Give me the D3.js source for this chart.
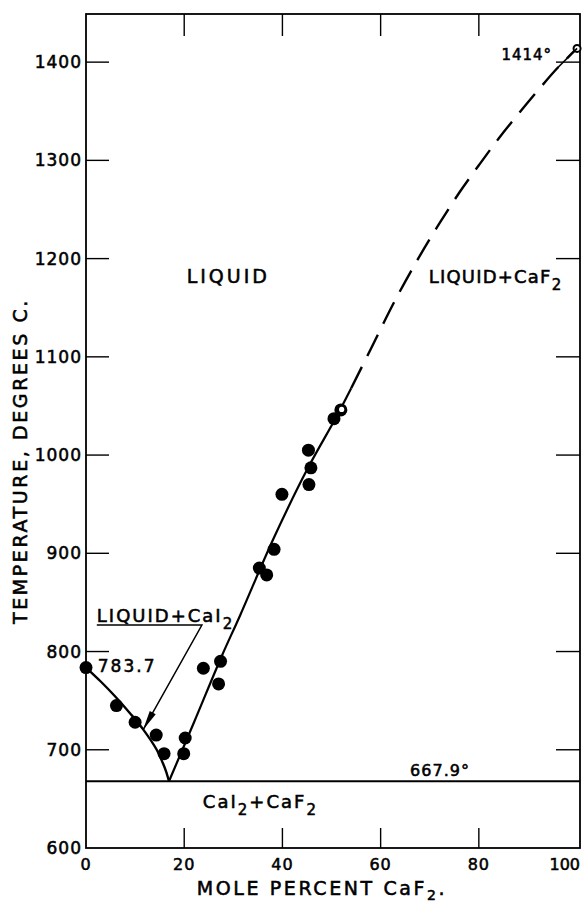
<!DOCTYPE html>
<html>
<head>
<meta charset="utf-8">
<script src="https://cdn.jsdelivr.net/npm/d3@7"></script>
<style>
  body { margin: 0; background: #fff; }
  text { font-family: "DejaVu Sans", sans-serif; fill: #000; stroke: #000; stroke-width: 0.55px; }
</style>
</head>
<body>
<div id="chart"></div>
<script>
// CaI2 - CaF2 phase diagram
const xTicks = [0, 20, 40, 60, 80, 100];
const yTicks = [600, 700, 800, 900, 1000, 1100, 1200, 1300, 1400];
const eutecticT = 667.9;

// liquidus, CaI2 side
const liqLeft = [[0, 783.7], [3, 769.5], [6, 754], [9, 737], [11.6, 721], [14.4, 700], [15.6, 687], [16.3, 678], [16.9, 667.9]];
// liquidus, CaF2 side (solid part)
const liqRight = [[16.9, 667.9], [22, 728], [27.7, 796], [31.4, 837], [38.1, 914], [45, 985], [51, 1039], [54, 1068]];
// extrapolated part (dashed)
const liqDashed = [[54, 1068], [58, 1108], [63, 1158], [68, 1203], [72, 1236], [76, 1267], [80, 1295], [84, 1322], [88, 1347], [92, 1371], [96, 1394], [100, 1414]];

// measured points
const points = [
  [0, 783.7], [6.2, 745], [10, 728], [14.3, 715], [15.9, 696],
  [19.9, 696], [20.2, 712], [23.9, 783], [27.0, 767], [27.4, 790],
  [35.3, 885], [36.8, 878], [38.3, 904], [39.9, 960], [45.3, 1005],
  [45.8, 987], [45.4, 970], [50.5, 1037]
];
const openPoints = [[51.9, 1046]];
const mpCaF2 = [100, 1414];

const W = 583, H = 906;
const svg = d3.select("#chart").append("svg").attr("width", W).attr("height", H);

let x = d3.scaleLinear().domain([0, 100.6]).range([86, 580]);
let y = d3.scaleLinear().domain([600, 1449]).range([848, 14]);

// frame
svg.append("rect").attr("x", x(0)).attr("y", y(1449))
  .attr("width", x(100.6) - x(0)).attr("height", y(600) - y(1449))
  .attr("fill", "none").attr("stroke", "#000").attr("stroke-width", 1.8);

// inward ticks on all four sides
let ticks = svg.append("g").attr("stroke", "#000").attr("stroke-width", 1.4);
yTicks.forEach(function (t) {
  if (t == 600) return;
  ticks.append("line").attr("x1", x(0)).attr("x2", x(0) + 23).attr("y1", y(t)).attr("y2", y(t));
  ticks.append("line").attr("x1", x(100.6)).attr("x2", x(100.6) - 24).attr("y1", y(t)).attr("y2", y(t));
});
xTicks.forEach(function (t) {
  if (t == 0 || t == 100) return;
  ticks.append("line").attr("x1", x(t)).attr("x2", x(t)).attr("y1", y(600)).attr("y2", y(600) - 20);
  ticks.append("line").attr("x1", x(t)).attr("x2", x(t)).attr("y1", y(1449)).attr("y2", y(1449) + 22);
});

// tick labels
svg.append("g").selectAll("text").data(yTicks).join("text")
  .attr("x", x(0) - 4).attr("y", function (d) { return y(d) + 6; })
  .attr("text-anchor", "end").attr("font-size", "17px").attr("letter-spacing", "1px")
  .text(function (d) { return d; });
// last label would run off the page, so it is pulled in to end at the edge
svg.append("g").selectAll("text").data(xTicks).join("text")
  .attr("x", function (d) { return d == 100 ? W - 3 : x(d); }).attr("y", 870)
  .attr("text-anchor", function (d) { return d == 100 ? "end" : "middle"; })
  .attr("font-size", "16px")
  .attr("letter-spacing", function (d) { return d == 100 ? "0px" : "1px"; })
  .text(function (d) { return d; });

// axis titles
let xt = svg.append("text").attr("x", 322).attr("y", 895).attr("text-anchor", "middle")
  .attr("font-size", "19px").attr("letter-spacing", "2.6px");
xt.append("tspan").text("MOLE PERCENT CaF");
xt.append("tspan").attr("font-size", "14px").attr("dy", 5).text("2");
xt.append("tspan").attr("dy", -5).text(".");

svg.append("text").attr("transform", "translate(27,461) rotate(-90)")
  .attr("text-anchor", "middle").attr("font-size", "19px").attr("letter-spacing", "2.6px")
  .text("TEMPERATURE, DEGREES C.");

// curves
let line = d3.line().x(function (d) { return x(d[0]); }).y(function (d) { return y(d[1]); })
  .curve(d3.curveCatmullRom.alpha(0.5));
svg.append("path").attr("d", line(liqLeft)).attr("fill", "none").attr("stroke", "#000").attr("stroke-width", 2.4);
svg.append("path").attr("d", line(liqRight)).attr("fill", "none").attr("stroke", "#000").attr("stroke-width", 2.2);
svg.append("path").attr("d", line(liqDashed)).attr("fill", "none").attr("stroke", "#000")
  .attr("stroke-width", 2.4).attr("stroke-dasharray", "24,12");

// eutectic
svg.append("line").attr("x1", x(0)).attr("x2", x(100.6)).attr("y1", y(eutecticT)).attr("y2", y(eutecticT))
  .attr("stroke", "#000").attr("stroke-width", 2);

// points
svg.append("g").selectAll("circle").data(points).join("circle")
  .attr("cx", function (d) { return x(d[0]); }).attr("cy", function (d) { return y(d[1]); })
  .attr("r", 6.5).attr("fill", "#000");
let op = svg.append("g").selectAll("g").data(openPoints).join("g")
  .attr("transform", function (d) { return "translate(" + x(d[0]) + "," + y(d[1]) + ")"; });
op.append("circle").attr("r", 6.5).attr("fill", "#000");
op.append("circle").attr("r", 2.6).attr("cx", 0.8).attr("cy", -0.5).attr("fill", "#fff");
svg.append("circle").attr("cx", x(mpCaF2[0])).attr("cy", y(mpCaF2[1])).attr("r", 3.5)
  .attr("fill", "#fff").attr("stroke", "#000").attr("stroke-width", 2);

// labels
function label(tx, ty, parts, size, ls) {
  let t = svg.append("text").attr("x", x(tx)).attr("y", y(ty))
    .attr("font-size", size + "px").attr("letter-spacing", ls + "px");
  parts.forEach(function (p) {
    if (p.sub) {
      t.append("tspan").attr("font-size", (size - 3) + "px").attr("dy", 7).text(p.s);
    } else if (p.up) {
      t.append("tspan").attr("dy", -7).text(p.s);
    } else {
      t.append("tspan").text(p.s);
    }
  });
  return t;
}
label(20.5, 1175, [{s: "LIQUID"}], 19, 3);
label(69.8, 1175, [{s: "LIQUID+CaF"}, {s: "2", sub: true}], 18, 1.2);
label(2.2, 830, [{s: "LIQUID+CaI"}, {s: "2", sub: true}], 18, 2);
label(2.4, 779, [{s: "783.7"}], 17, 2);
label(66, 673, [{s: "667.9°"}], 16, 1);
label(23.8, 640.5, [{s: "CaI"}, {s: "2", sub: true}, {s: "+CaF", up: true}, {s: "2", sub: true}], 18, 2);
label(84.6, 1402, [{s: "1414°"}], 15, 1);

// pointer for LIQUID+CaI2
let under = [[2.2, 827], [23.6, 827]];
let tip = [11.6, 720];
svg.append("path")
  .attr("d", d3.line()([[x(under[0][0]), y(under[0][1])], [x(under[1][0]), y(under[1][1])], [x(tip[0]), y(tip[1])]]))
  .attr("fill", "none").attr("stroke", "#000").attr("stroke-width", 1.5);
let tx = x(tip[0]), ty = y(tip[1]);
let ang = Math.atan2(y(under[1][1]) - ty, x(under[1][0]) - tx);
let len = 20, half = 3.4;
let bx = tx + len * Math.cos(ang), by = ty + len * Math.sin(ang);
svg.append("path")
  .attr("d", "M" + tx + "," + ty + "L" + (bx - half * Math.sin(ang)) + "," + (by + half * Math.cos(ang)) +
    "L" + (bx + half * Math.sin(ang)) + "," + (by - half * Math.cos(ang)) + "Z")
  .attr("fill", "#000");
// short slope mark at the CaF2 melting point
svg.append("line").attr("x1", x(96)).attr("y1", y(1394)).attr("x2", x(100)).attr("y2", y(1414))
  .attr("stroke", "#000").attr("stroke-width", 1.6);
</script>
</body>
</html>
